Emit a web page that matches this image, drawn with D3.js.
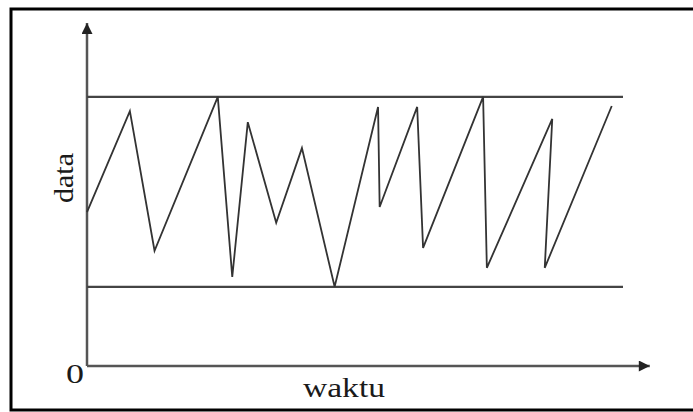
<!DOCTYPE html>
<html>
<head>
<meta charset="utf-8">
<script src="https://cdn.jsdelivr.net/npm/d3@7"></script>
<style>
    html, body { margin: 0; background: #fff; overflow: hidden; }
    svg { display: block; }
    .label { font-family: "Liberation Serif", "DejaVu Serif", serif; fill: #1a1a1a; }
</style>
</head>
<body>
<div id="chart"></div>
<script>
// time (x) and data (y) values of the zigzag
const times = [0, 8.0, 12.6, 24.4, 27.1, 30.0, 35.3, 40.1, 46.2, 54.3, 54.6, 61.6, 62.7, 73.9, 74.6, 86.8, 85.4, 97.9];
const values = [48.6, 80.5, 36.4, 85, 28.1, 77.0, 45.2, 68.8, 25, 81.8, 50.2, 81.8, 37.3, 85, 31, 78, 31, 82.1];

// control limits
const limits = [25, 85];
const limitSpan = [0, 100];

// axis extents (in data units) and labels
const xAxisMax = 105;
const yAxisMax = 108.3;
const xLabel = "waktu";
const yLabel = "data";
const originLabel = "0";

function drawChart(selector) {
    const dimensions = {
        width: 693,
        height: 412
    };

    const svg = d3.select(selector).append("svg")
        .attr("width", dimensions.width)
        .attr("height", dimensions.height);

    // outer frame (runs off the right edge in the original)
    svg.append("rect")
        .attr("x", 11)
        .attr("y", 9)
        .attr("width", 720)
        .attr("height", 401)
        .attr("fill", "#fff")
        .attr("stroke", "#000")
        .attr("stroke-width", 3);

    const xScale = d3.scaleLinear()
        .domain([0, 100])
        .range([87, 623]);

    const yScale = d3.scaleLinear()
        .domain([0, 100])
        .range([366, 49.3]);

    // arrow head marker
    svg.append("defs").append("marker")
        .attr("id", "arrow")
        .attr("viewBox", "0 0 10 10")
        .attr("refX", 10)
        .attr("refY", 5)
        .attr("markerUnits", "userSpaceOnUse")
        .attr("markerWidth", 13)
        .attr("markerHeight", 11)
        .attr("orient", "auto")
        .append("path")
        .attr("d", "M0,0 L10,5 L0,10 Z")
        .attr("fill", "#222");

    // axes
    svg.append("line")
        .attr("x1", xScale(0))
        .attr("y1", yScale(0))
        .attr("x2", xScale(xAxisMax))
        .attr("y2", yScale(0))
        .attr("stroke", "#555")
        .attr("stroke-width", 2.5)
        .attr("marker-end", "url(#arrow)");

    svg.append("line")
        .attr("x1", xScale(0))
        .attr("y1", yScale(0))
        .attr("x2", xScale(0))
        .attr("y2", yScale(yAxisMax))
        .attr("stroke", "#555")
        .attr("stroke-width", 2.5)
        .attr("marker-end", "url(#arrow)");

    // upper and lower limit lines
    svg.selectAll(".limit")
        .data(limits)
        .enter().append("line")
        .attr("class", "limit")
        .attr("x1", xScale(limitSpan[0]))
        .attr("x2", xScale(limitSpan[1]))
        .attr("y1", d => yScale(d))
        .attr("y2", d => yScale(d))
        .attr("stroke", "#444")
        .attr("stroke-width", 2.2);

    // zigzag data line
    const points = times.map((t, i) => [t, values[i]]);
    const line = d3.line()
        .x(d => xScale(d[0]))
        .y(d => yScale(d[1]));

    svg.append("path")
        .datum(points)
        .attr("d", line)
        .attr("fill", "none")
        .attr("stroke", "#333")
        .attr("stroke-width", 1.8)
        .attr("stroke-linejoin", "miter");

    // labels
    svg.append("text")
        .attr("class", "label")
        .attr("x", 66)
        .attr("y", 383)
        .attr("font-size", 28)
        .attr("textLength", 18)
        .attr("lengthAdjust", "spacingAndGlyphs")
        .text(originLabel);

    svg.append("text")
        .attr("class", "label")
        .attr("x", 303)
        .attr("y", 397)
        .attr("font-size", 28)
        .attr("textLength", 82)
        .attr("lengthAdjust", "spacingAndGlyphs")
        .text(xLabel);

    svg.append("text")
        .attr("class", "label")
        .attr("transform", "translate(73, 203) rotate(-90)")
        .attr("font-size", 28)
        .attr("textLength", 50)
        .attr("lengthAdjust", "spacingAndGlyphs")
        .text(yLabel);
}

drawChart("#chart");
</script>
</body>
</html>
